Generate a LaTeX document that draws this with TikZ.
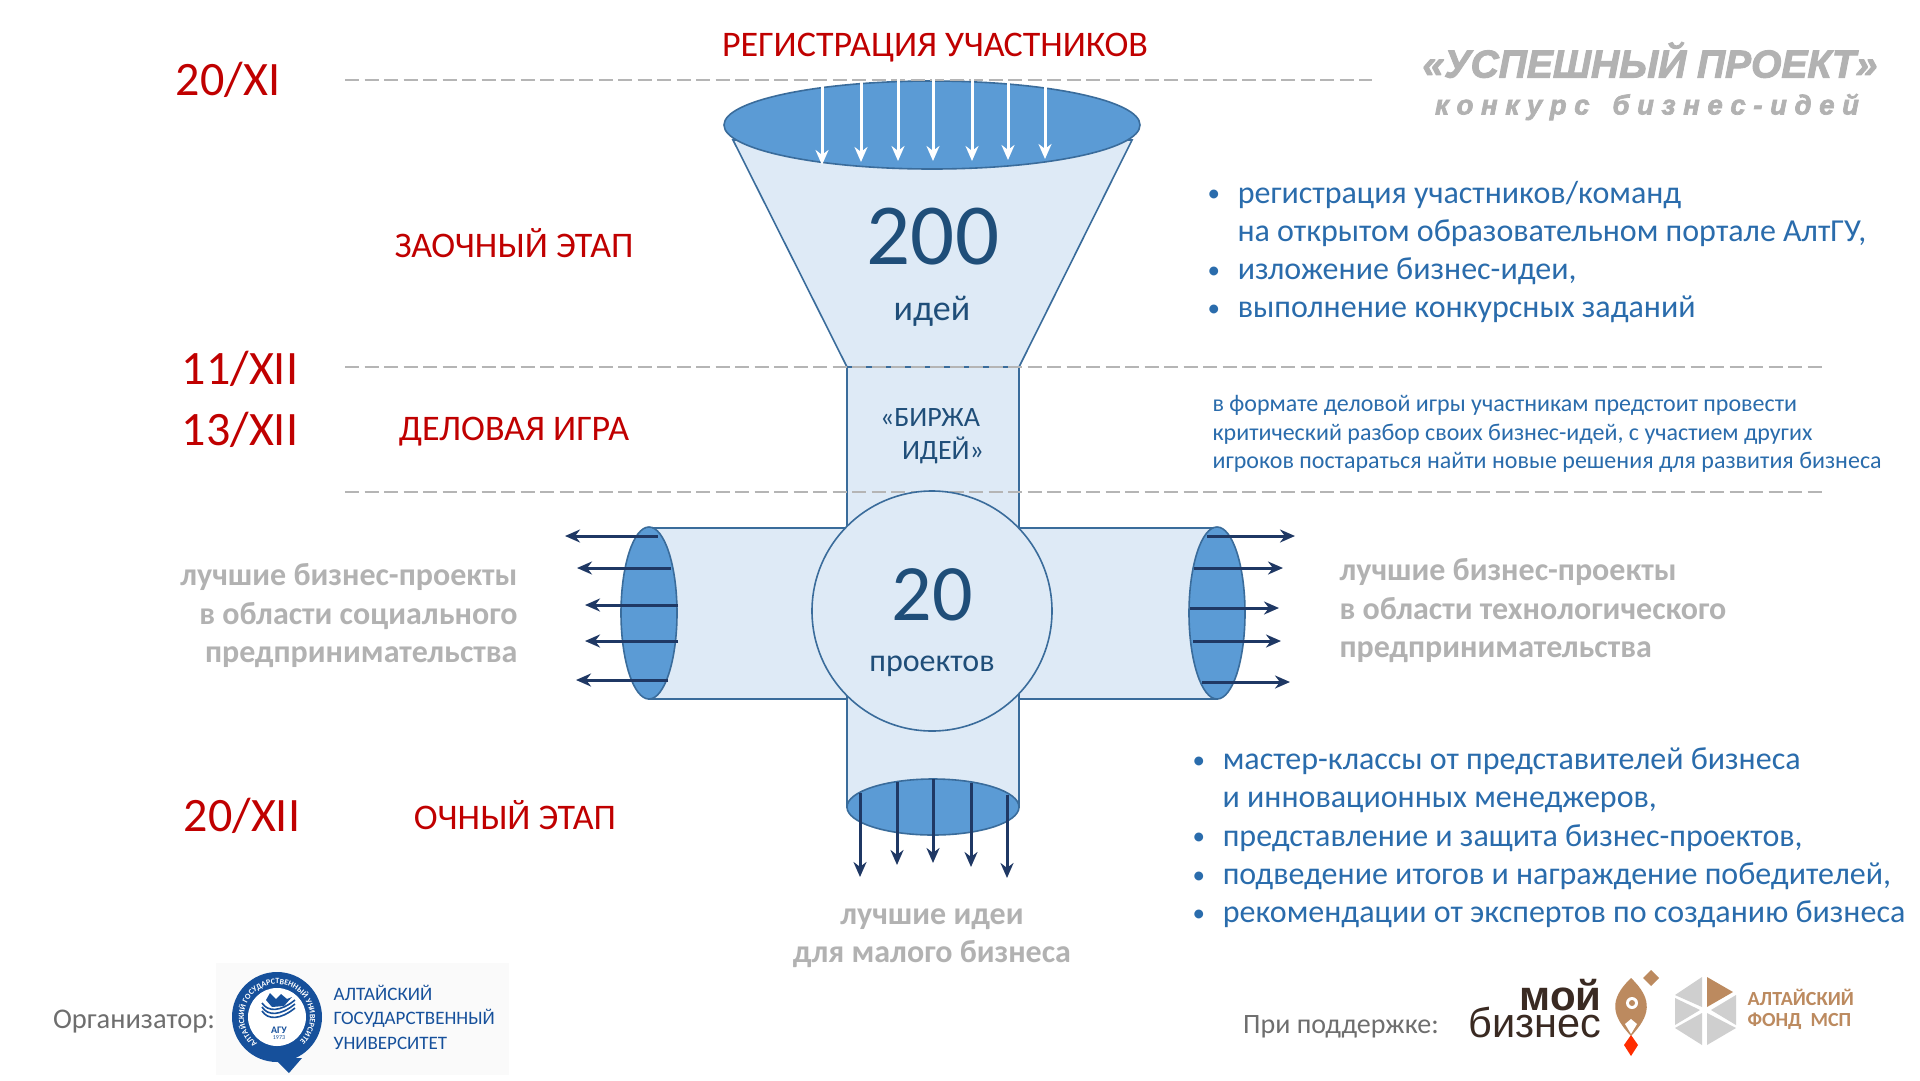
\documentclass[tikz,border=0pt]{standalone}
\usepackage{fontspec}
\setmainfont{Carlito}
\newfontfamily\headfont[BoldItalicFeatures={FakeBold=2.5}]{Liberation Sans}
\usetikzlibrary{arrows.meta,decorations.text}
\definecolor{tubeblue}{HTML}{DEEAF6}
\definecolor{mouthblue}{HTML}{5B9BD5}
\definecolor{edgeblue}{HTML}{3A6C9B}
\definecolor{numblue}{HTML}{1F4E79}
\definecolor{listblue}{HTML}{2A6CAC}
\definecolor{navyarrow}{HTML}{1F3864}
\definecolor{datered}{HTML}{C00000}
\definecolor{softgray}{HTML}{B2B2B2}
\definecolor{lineGray}{HTML}{B5B5B5}
\definecolor{footgray}{HTML}{6E6E6E}
\definecolor{agublue}{HTML}{16509B}
\definecolor{bizbrown}{HTML}{BC8A5F}
\definecolor{bizdark}{HTML}{3A2A22}
\definecolor{hexgray}{HTML}{CFCFCF}
\newcommand{\fs}[1]{\fontsize{#1}{#1}\selectfont}
\newcommand{\bul}{\raisebox{1.5pt}{\fs{25}•}\hspace{17.8pt}}
\tikzset{
  tube/.style={fill=tubeblue,draw=edgeblue,line width=1.6pt},
  mouth/.style={fill=mouthblue,draw=edgeblue,line width=1.6pt},
  stagerule/.style={draw=lineGray,line width=1.7pt,dash pattern=on 14pt off 5.5pt},
  datetext/.style={text=datered,font=\fs{48}},
  stagetext/.style={text=datered,font=\fs{36}},
  graytext/.style={text=softgray,font=\bfseries\fs{32},align=left},
  listtext/.style={text=listblue,font=\fs{32},align=left,anchor=west},
  smalltext/.style={text=listblue,font=\fs{24},align=left,anchor=west},
  outarrow/.style={navyarrow,line width=3pt,-{Stealth[length=15pt,width=13pt]}},
  inarrow/.style={white,line width=3pt,-{Stealth[length=15pt,width=13pt]}},
}
\begin{document}
\begin{tikzpicture}[x=1pt,y=-1pt,>=Stealth]
 \useasboundingbox (0,0) rectangle (1920,1080);
 \fill[white] (0,0) rectangle (1920,1080);
 % funnel and cross
 \draw[tube] (649,528) rectangle (1217,699);
 \draw[tube] (847,367) rectangle (1019,807);
 \fill[tubeblue] (848,500) rectangle (1018,730);
 \draw[tube] (733,140)--(847,367)--(1019,367)--(1132,140)--cycle;
 \draw[mouth] (932,125) ellipse [x radius=208,y radius=44];
 \draw[mouth] (649,613) ellipse [x radius=28,y radius=86];
 \draw[mouth] (1217,613) ellipse [x radius=28,y radius=86];
 \draw[mouth] (933,807) ellipse [x radius=86,y radius=28];
 % stage rules
 \draw[stagerule] (345,80)--(1372,80);
 \draw[stagerule] (345,367)--(1827,367);
 \draw[stagerule] (345,492)--(1827,492);
 \draw[tube] (932,611) circle [radius=120];
 % arrows
 \foreach \ax/\ay/\by in {822/85/165,861/82/162,898/79/161,933/79/161,972/79/161,1008/82/160,1045/86/159}
   \draw[inarrow] (\ax,\ay)--(\ax,\by);
 \foreach \ay/\ax/\bx in {536/658/565,568/671/577,605/678/585,641/678/585,680/668/576,
                          536/1207/1295,568/1194/1283,608/1190/1279,641/1193/1281,682/1202/1290}
   \draw[outarrow] (\ax,\ay)--(\bx,\ay);
 \foreach \ax/\ay/\by in {860/793/877,897/782/865,933/779/863,971/783/867,1007/795/878}
   \draw[outarrow] (\ax,\ay)--(\ax,\by);
 % funnel texts
 \node (regtitle) at (935,48) [text=datered,font=\fs{36}] {РЕГИСТРАЦИЯ УЧАСТНИКОВ};
 \node (num200) at (933,237) [text=numblue,font=\fs{87}] {200};
 \node (ideas) at (932,311) [text=numblue,font=\fs{36}] {идей};
 \node (birzha) at (932,436) [text=numblue,font=\fs{28},align=left] {«БИРЖА\\[5pt]\hspace*{22pt}ИДЕЙ»};
 \node (num20) at (932,595) [text=numblue,font=\fs{80}] {20};
 \node (projects) at (932,666) [text=numblue,font=\fs{32}] {проектов};
 % dates and stages
 \node (dateA) at (228,80) [datetext] {20/XI};
 \node (dateB) at (240,369) [datetext] {11/XII};
 \node (dateC) at (240,430) [datetext] {13/XII};
 \node (dateD) at (242,816) [datetext] {20/XII};
 \node (stageA) at (514,243) [stagetext] {ЗАОЧНЫЙ ЭТАП};
 \node (stageB) at (514,432) [stagetext] {ДЕЛОВАЯ ИГРА};
 \node (stageC) at (515,815) [stagetext] {ОЧНЫЙ ЭТАП};
 % gray labels
 \node (socbest) at (521,616) [graytext,anchor=east,align=right]
   {лучшие бизнес-проекты\\[6.5pt]в области социального\\[6.5pt]предпринимательства};
 \node (techbest) at (1336,611) [graytext,anchor=west]
   {лучшие бизнес-проекты\\[6.5pt]в области технологического\\[6.5pt]предпринимательства};
 \node (smallbest) at (932,938) [graytext,align=center]
   {лучшие идеи\\[6.5pt]для малого бизнеса};
 % lists
 \node (listA) at (1204,252) [listtext]
   {\bul регистрация участников/команд\\[6.3pt]
    \hspace*{30pt}на открытом образовательном портале АлтГУ,\\[6.3pt]
    \bul изложение бизнес-идеи,\\[6.3pt]
    \bul выполнение конкурсных заданий};
 \node (listB) at (1209,434) [smalltext]
   {в формате деловой игры участникам предстоит провести\\[4.8pt]
    критический разбор своих бизнес-идей, с участием других\\[4.8pt]
    игроков постараться найти новые решения для развития бизнеса};
 \node (listC) at (1189,838) [listtext]
   {\bul мастер-классы от представителей бизнеса\\[6.3pt]
    \hspace*{30pt}и инновационных менеджеров,\\[6.3pt]
    \bul представление и защита бизнес-проектов,\\[6.3pt]
    \bul подведение итогов и награждение победителей,\\[6.3pt]
    \bul рекомендации от экспертов по созданию бизнеса};
 % contest title
 \node (contest) at (1650,60) [text=softgray,font=\headfont\bfseries\itshape\fs{39}] {«УСПЕШНЫЙ ПРОЕКТ»};
 \node (contestsub) at (1647,107) [text=softgray,font=\headfont\bfseries\itshape\fs{27.5}] {к о н к у р с\ \ \ б и з н е с - и д е й};
 % footer left
 \node (organizer) at (134,1022) [text=footgray,font=\fs{28.5}] {Организатор:};
 \fill[black!2] (216,963) rectangle (509,1075);
 \fill[agublue] (277,1017) circle [radius=45];
 \fill[agublue] (274,1058)--(302,1058)--(289,1073)--cycle;
 \fill[white] (277,1017) circle [radius=29];
 \begin{scope}[shift={(277,1017)},y=1pt]
  \path[decorate,decoration={text along path,text color=white,text align=center,
    text={|\bfseries\fs{8}|АЛТАЙСКИЙ ГОСУДАРСТВЕННЫЙ УНИВЕРСИТЕТ}}]
    (230:33) arc [start angle=230,end angle=-50,radius=33];
 \end{scope}
 \foreach \fy in {0,4,8}
   \draw[agublue,line width=1.6pt] (262,1003+\fy) .. controls (268,1012+\fy) and (280,1012+\fy) .. (295,1000+\fy);
 \fill[agublue] (266,1000)--(270,993)--(276,999)--(281,994)--(287,999)--(292,997)--(284,1006)--(272,1007)--cycle;
 \node (aguname) at (279,1030) [text=agublue,font=\bfseries\fs{10}] {АГУ};
 \node (aguyear) at (279,1038) [text=agublue,font=\fs{6}] {1973};
 \node (agutitle) at (330,1017) [anchor=west,text=agublue,font=\fs{19},align=left]
   {АЛТАЙСКИЙ\\[5.5pt]ГОСУДАРСТВЕННЫЙ\\[5.5pt]УНИВЕРСИТЕТ};
 % footer right
 \node (support) at (1341,1027) [text=footgray,font=\fs{28}] {При поддержке:};
 \node (bizA) at (1605,995) [anchor=east,text=bizdark,font=\headfont\bfseries\fs{42}] {мой};
 \node (bizB) at (1605,1022) [anchor=east,text=bizdark,font=\headfont\fs{41.5}] {бизнес};
 \fill[bizbrown] (1631,978) .. controls (1608,1000) and (1612,1016) .. (1631,1036)
    .. controls (1650,1016) and (1654,1000) .. (1631,978);
 \fill[white] (1632,1003) circle [radius=6];
 \fill[bizbrown] (1632,1003) circle [radius=3];
 \fill[white] (1625,1024)--(1631,1019)--(1637,1024)--(1631,1034)--cycle;
 \fill[bizbrown] (1651,970)--(1659,978)--(1651,986)--(1643,978)--cycle;
 \fill[red!65!orange] (1631,1035)--(1638,1045)--(1631,1056)--(1624,1045)--cycle;
 \fill[bizbrown] (1707,977)--(1733,992)--(1707,1007)--cycle;
 \fill[hexgray] (1702,977)--(1702,1007)--(1675,995)--cycle;
 \fill[hexgray] (1675,998)--(1700,1010)--(1675,1025)--cycle;
 \fill[hexgray] (1675,1028)--(1702,1013)--(1702,1045)--cycle;
 \fill[hexgray] (1707,1013)--(1736,1028)--(1707,1045)--cycle;
 \fill[hexgray] (1736,995)--(1711,1010)--(1736,1025)--cycle;
 \node (fundA) at (1744,997) [anchor=west,text=bizbrown,font=\bfseries\fs{20}] {АЛТАЙСКИЙ};
 \node (fundB) at (1744,1021) [anchor=west,text=bizbrown,font=\bfseries\fs{20}] {ФОНД\ \ МСП};
\end{tikzpicture}
\end{document}
